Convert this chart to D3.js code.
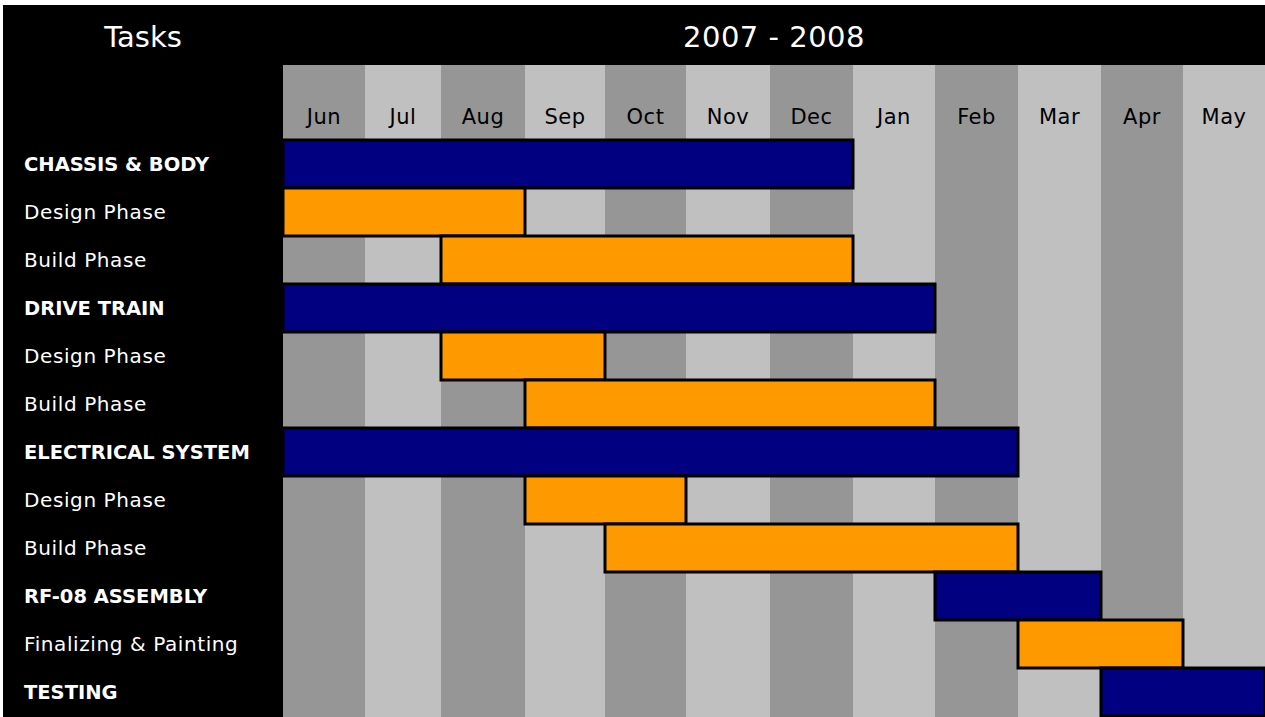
<!DOCTYPE html>
<html>
<head>
<meta charset="utf-8">
<script src="https://cdn.jsdelivr.net/npm/d3@7"></script>
<style>
  html, body { margin: 0; padding: 0; background: #fff; }
  svg { display: block; }
</style>
</head>
<body>
<svg id="chart" width="1265" height="717"></svg>
<script>
// ---- data ----
const months = ["Jun", "Jul", "Aug", "Sep", "Oct", "Nov", "Dec", "Jan", "Feb", "Mar", "Apr", "May"];
const title = "2007 - 2008";
const taskHeader = "Tasks";
const taskNames = ["CHASSIS & BODY", "Design Phase", "Build Phase",
                   "DRIVE TRAIN", "Design Phase", "Build Phase",
                   "ELECTRICAL SYSTEM", "Design Phase", "Build Phase",
                   "RF-08 ASSEMBLY", "Finalizing & Painting", "TESTING"];
const taskIsGroup = [true, false, false, true, false, false, true, false, false, true, false, true];
// month index where each task starts (0 = Jun 2007) and ends (exclusive)
const taskStart = [0, 0, 2, 0, 2, 3, 0, 3, 4, 8, 9, 10];
const taskEnd   = [7, 3, 7, 8, 4, 8, 9, 5, 9, 10, 11, 12];

// ---- layout ----
const W = 1265, H = 717;
const colEdges = [283, 365, 441, 525, 605, 686, 770, 853, 935, 1018, 1101, 1183, 1265];
const headerBottom = 65, gridTop = 140, rowH = 48;

const svg = d3.select("#chart");

const x = d3.scaleLinear().domain(d3.range(13)).range(colEdges);
const y = d3.scaleBand().domain(d3.range(taskNames.length))
  .range([gridTop, gridTop + rowH * taskNames.length]).padding(0);

// background
svg.append("rect").attr("x", 3).attr("y", 5).attr("width", W - 3).attr("height", H - 5).attr("fill", "#000");

// column shading
svg.append("g").selectAll("rect").data(months).join("rect")
  .attr("x", (d, i) => x(i))
  .attr("y", headerBottom)
  .attr("width", (d, i) => x(i + 1) - x(i))
  .attr("height", H - headerBottom)
  .attr("fill", (d, i) => i % 2 === 0 ? "#969696" : "#c0c0c0");

// month labels
svg.append("g").selectAll("text").data(months).join("text")
  .attr("x", (d, i) => (x(i) + x(i + 1)) / 2)
  .attr("y", 117)
  .attr("text-anchor", "middle")
  .attr("dominant-baseline", "central")
  .attr("font-family", "DejaVu Sans, sans-serif")
  .attr("font-size", 21)
  .attr("letter-spacing", 0.5)
  .attr("fill", "#000")
  .text(d => d);

// header texts
svg.append("text").attr("x", 143).attr("y", 37)
  .attr("text-anchor", "middle").attr("dominant-baseline", "central")
  .attr("font-family", "DejaVu Sans, sans-serif").attr("font-size", 29)
  .attr("fill", "#fff").text(taskHeader);
svg.append("text").attr("x", (x(0) + x(12)) / 2).attr("y", 37)
  .attr("text-anchor", "middle").attr("dominant-baseline", "central")
  .attr("font-family", "DejaVu Sans, sans-serif").attr("font-size", 29)
  .attr("letter-spacing", 0.5)
  .attr("fill", "#fff").text(title);

// task labels
svg.append("g").selectAll("text").data(taskNames).join("text")
  .attr("x", 24)
  .attr("y", (d, i) => y(i) + rowH / 2)
  .attr("dominant-baseline", "central")
  .attr("font-family", "DejaVu Sans, sans-serif")
  .attr("font-size", (d, i) => taskIsGroup[i] ? 19.5 : 20)
  .attr("letter-spacing", (d, i) => taskIsGroup[i] ? 0 : 0.6)
  .attr("font-weight", (d, i) => taskIsGroup[i] ? "bold" : "normal")
  .attr("fill", "#fff")
  .text(d => d);

// bars
svg.append("g").selectAll("rect").data(taskNames).join("rect")
  .attr("x", (d, i) => x(taskStart[i]))
  .attr("y", (d, i) => y(i))
  .attr("width", (d, i) => x(taskEnd[i]) - x(taskStart[i]))
  .attr("height", rowH)
  .attr("fill", (d, i) => taskIsGroup[i] ? "#000080" : "#ff9900")
  .attr("stroke", "#000")
  .attr("stroke-width", 3);
</script>
</body>
</html>
